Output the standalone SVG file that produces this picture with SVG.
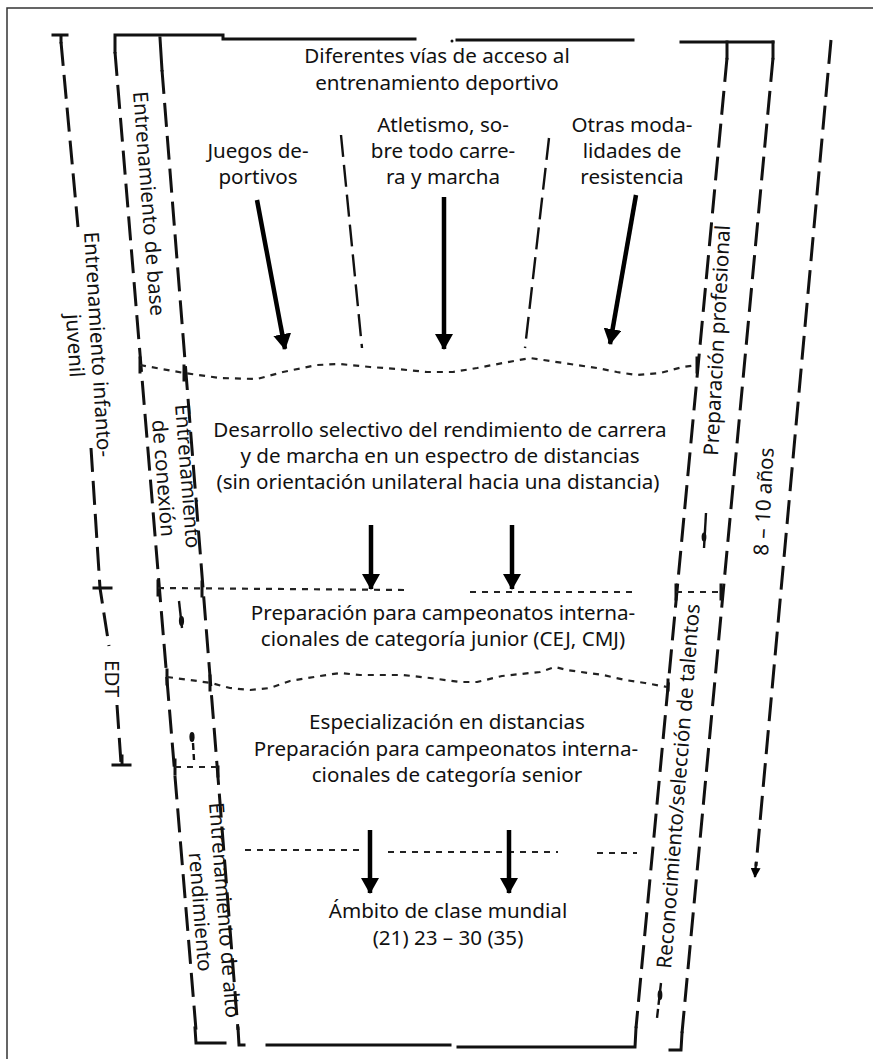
<svg xmlns="http://www.w3.org/2000/svg" width="873" height="1059" viewBox="0 0 873 1059">
  <defs>
    <style>
      .frame { stroke: #333; stroke-width: 1.5; fill: none; }
      .solid { stroke: #111; stroke-width: 3; fill: none; stroke-linecap: square; }
      .dash { stroke: #111; stroke-width: 3; fill: none; stroke-dasharray: 24 9; }
      .thin { stroke: #111; stroke-width: 2.4; fill: none; stroke-dasharray: 22 8; }
      .dot { stroke: #222; stroke-width: 2.2; fill: none; stroke-dasharray: 6 6; stroke-linejoin: round; }
      .arrow { stroke: #000; stroke-width: 4.5; fill: none; marker-end: url(#head); }
      .stub { stroke: #111; stroke-width: 2.4; fill: none; }
      text { font-family: "Noto Sans", "Open Sans", sans-serif; font-size: 20.6px; fill: #111; }
      .c { text-anchor: middle; }
    </style>
    <marker id="head" viewBox="0 0 16 18" refX="15" refY="9" markerWidth="16" markerHeight="18" markerUnits="userSpaceOnUse" orient="auto">
      <path d="M0,0 L16,9 L0,18 Z" fill="#000"/>
    </marker>
    <marker id="tip" viewBox="0 0 10 10" refX="9" refY="5" markerWidth="10" markerHeight="10" markerUnits="userSpaceOnUse" orient="auto">
      <path d="M0,0 L10,5 L0,10 Z" fill="#000"/>
    </marker>
  </defs>

  <rect width="873" height="1059" fill="#fff"/>
  <!-- outer frame (top and left edges) -->
  <path class="frame" d="M7,1059 V8 H873"/>

  <!-- ===== connectors, brackets and dividers ===== -->
  <g id="connectors">
    <!-- top edge of the funnel -->
    <path class="solid" d="M115,52 V35 H223 V39 H415"/>
    <path class="solid" d="M457,40 H633"/>
    <circle cx="452" cy="41" r="1.5" fill="#111"/>
    <path class="solid" d="M681,42 H773"/>

    <!-- bottom edge of the funnel -->
    <path class="solid" d="M267,1045 H450"/>
    <path class="solid" d="M458,1047 H635 L636,1028"/>

    <!-- infanto-juvenil bracket -->
    <path class="solid" d="M53,35 H67 M61,35 V42"/>
    <path class="dash" d="M61,42 L78,227"/>
    <path class="dash" d="M91,448 L100,588 L109,646"/>
    <path class="solid" d="M94,588 H111"/>
    <path class="dash" d="M117,705 L121,763"/>
    <path class="solid" d="M113,765 H130 M122,756 V765"/>

    <!-- left band, outer line -->
    <path class="dash" d="M115,52 L196,1030"/>
    <path class="solid" d="M195,1028 L196,1043 H225"/>
    <!-- left band, inner line -->
    <path class="solid" d="M160,38 L162,70"/>
    <path class="dash" d="M162,70 L238,1030"/>
    <path class="solid" d="M238,1028 L239,1045 H244"/>

    <!-- junction marks on the left band -->
    <path class="solid" d="M140,358 V372 M184,366 V380 M158,581 V595 M202,582 V596 M167,670 V684 M210,676 V690 M175,760 V774 M218,767 V776"/>

    <!-- right band, inner line -->
    <path class="solid" d="M727,42 V58"/>
    <path class="dash" d="M727,58 L636,1028"/>
    <!-- right band, outer line -->
    <path class="solid" d="M773,42 V58"/>
    <path class="dash" d="M773,58 L682,1033"/>
    <path class="solid" d="M682,1033 L681,1050 H670"/>
    <!-- junction marks on the right band -->
    <path class="solid" d="M697,358 V372 M676,585 V599 M721,585 V599 M668,680 V690"/>

    <!-- 8 - 10 years line -->
    <path class="dash" d="M831,40 L756,866"/>
    <path class="stub" d="M756,862 L755,877" marker-end="url(#tip)"/>

    <!-- thin separators between the access routes -->
    <path class="thin" d="M341,135 L362,348"/>
    <path class="thin" d="M549,138 L525,348"/>

    <!-- wavy divider below the access routes -->
    <polyline class="dot" points="140,365 162,369 184,373 220,378 257,379 283,372 317,365 340,364 370,367 397,369 427,372 453,372 477,368 503,363 530,358 550,361 570,364 597,368 617,372 636,375 660,373 683,367 697,365"/>
    <!-- divider above junior championships -->
    <path class="dot" d="M158,588 L405,590 M470,592 L632,592 M676,592 L721,592"/>
    <!-- wavy divider above specialisation -->
    <polyline class="dot" points="167,677 190,680 211,683 230,688 250,690 270,688 290,681 320,676 340,673 360,675 403,675 430,678 460,682 477,682 502,676 540,672 555,667 567,670 603,675 625,680 645,683 667,687"/>
    <path class="dot" d="M175,767 L218,767"/>
    <!-- divider above world class -->
    <path class="dot" d="M245,850 L363,850 M388,852 L558,852 M597,853 L637,853"/>

    <!-- main arrows -->
    <path class="arrow" d="M257,200 L285,349"/>
    <path class="arrow" d="M444,197 L444,349"/>
    <path class="arrow" d="M636,195 L610,344"/>
    <path class="arrow" d="M371,525 L371,589"/>
    <path class="arrow" d="M512,525 L512,589"/>
    <path class="arrow" d="M370,830 L370,893"/>
    <path class="arrow" d="M509,830 L509,893"/>

    <!-- small stubs inside the bands -->
    <path class="stub" d="M179,601 L182,628"/>
    <ellipse cx="181.5" cy="621" rx="2.6" ry="5" fill="#111"/>
    <ellipse cx="192" cy="737" rx="2.6" ry="5" fill="#111"/>
    <path class="stub" d="M193,743 L194,760" stroke-dasharray="7 4"/>
    <path class="stub" d="M706,513 L704,548"/>
    <ellipse cx="704" cy="537" rx="2.4" ry="4.5" fill="#111"/>
    <path class="stub" d="M661,983 L657,1018" stroke-dasharray="9 4"/>
    <ellipse cx="660" cy="995" rx="2.4" ry="5" fill="#111"/>
  </g>

  <!-- ===== labels ===== -->
  <g id="title">
    <text class="c" x="437" y="63">Diferentes vías de acceso al</text>
    <text class="c" x="437" y="90">entrenamiento deportivo</text>
  </g>
  <g id="juegos">
    <text class="c" x="258" y="158">Juegos de-</text>
    <text class="c" x="258" y="184">portivos</text>
  </g>
  <g id="atletismo">
    <text class="c" x="443" y="132">Atletismo, so-</text>
    <text class="c" x="443" y="158">bre todo carre-</text>
    <text class="c" x="443" y="184">ra y marcha</text>
  </g>
  <g id="otras">
    <text class="c" x="632" y="132">Otras moda-</text>
    <text class="c" x="632" y="158">lidades de</text>
    <text class="c" x="632" y="184">resistencia</text>
  </g>
  <g id="desarrollo">
    <text class="c" x="440" y="437">Desarrollo selectivo del rendimiento de carrera</text>
    <text class="c" x="440" y="463">y de marcha en un espectro de distancias</text>
    <text class="c" x="438" y="489">(sin orientación unilateral hacia una distancia)</text>
  </g>
  <g id="junior">
    <text class="c" x="443" y="620">Preparación para campeonatos interna-</text>
    <text class="c" x="443" y="646">cionales de categoría junior (CEJ, CMJ)</text>
  </g>
  <g id="senior">
    <text class="c" x="447" y="729">Especialización en distancias</text>
    <text class="c" x="446" y="756">Preparación para campeonatos interna-</text>
    <text class="c" x="447" y="782">cionales de categoría senior</text>
  </g>
  <g id="mundial">
    <text class="c" x="448" y="918">Ámbito de clase mundial</text>
    <text class="c" x="448" y="945">(21) 23 – 30 (35)</text>
  </g>

  <!-- rotated band labels -->
  <g id="infanto" transform="translate(84,232) rotate(86.5)">
    <text class="c" x="113" y="0">Entrenamiento infanto-</text>
    <text class="c" x="113" y="23">juvenil</text>
  </g>
  <g id="edt" transform="translate(105,660) rotate(90)">
    <text x="0" y="0">EDT</text>
  </g>
  <g id="base" transform="translate(133,92) rotate(85.5)">
    <text x="0" y="0">Entrenamiento de base</text>
  </g>
  <g id="conexion" transform="translate(175,405) rotate(85.5)">
    <text class="c" x="72" y="0">Entrenamiento</text>
    <text class="c" x="72" y="24">de conexión</text>
  </g>
  <g id="alto" transform="translate(209,803) rotate(85.5)">
    <text class="c" x="108" y="0">Entrenamiento de alto</text>
    <text class="c" x="108" y="24">rendimiento</text>
  </g>
  <g id="profesional" transform="translate(718,456) rotate(-87)">
    <text x="0" y="0">Preparación profesional</text>
  </g>
  <g id="talentos" transform="translate(671,969) rotate(-85.5)">
    <text x="0" y="0">Reconocimiento/selección de talentos</text>
  </g>
  <g id="anos" transform="translate(768,556) rotate(-87)">
    <text x="0" y="0">8 – 10 años</text>
  </g>
</svg>
